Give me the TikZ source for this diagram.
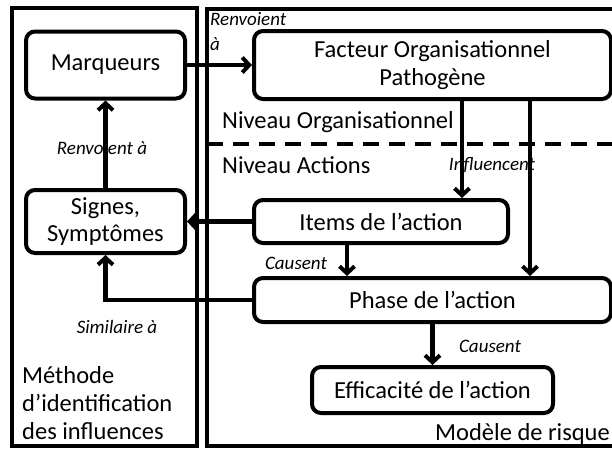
\documentclass[tikz,border=0pt]{standalone}
\usepackage{fontspec}
\setmainfont{Carlito}
\usetikzlibrary{arrows.meta}

\begin{document}
\begin{tikzpicture}[x=1pt,y=-1pt]
\tikzstyle{box}=[draw, rounded corners=9pt, line width=4pt, inner sep=2pt, align=center, font=\fontsize{24.5}{27.5}\selectfont]
\tikzstyle{frame}=[draw, line width=4.5pt]
\tikzstyle{arr}=[line width=4.5pt, -{Straight Barb[length=7pt,width=15pt,line width=4pt]}]
\tikzstyle{lab}=[font=\fontsize{19}{25}\selectfont\itshape, inner sep=0pt]
\tikzstyle{title}=[font=\fontsize{24.5}{28}\selectfont, inner sep=0pt, align=left]

\useasboundingbox (0,0) rectangle (612,448);
\clip (0,0) rectangle (612,448);

% the two frames
\draw[frame] (12,8) rectangle (197,446);
\draw[frame] (207,9) rectangle (640,446);
\draw[line width=4pt, dash pattern=on 16pt off 10pt] (207,144) -- (612,144);

\node[box, minimum width=159pt, minimum height=67pt] (marq) at (105.5,65) {Marqueurs};
\node[box, minimum width=159pt, minimum height=63pt] (signes) at (105.5,221.5) {Signes,\\Symptômes};
\node[box, minimum width=357pt, minimum height=68pt] (fop) at (432.5,65) {Facteur Organisationnel\\Pathogène};
\node[box, minimum width=254pt, minimum height=43pt] (items) at (381,221.5) {Items de l’action};
\node[box, minimum width=357pt, minimum height=44pt] (phase) at (432.5,300) {Phase de l’action};
\node[box, minimum width=241pt, minimum height=46pt] (effic) at (432.5,390) {Efficacité de l’action};

\node[title, anchor=west] (orga) at (222,122) {Niveau Organisationnel};
\node[title, anchor=west] (actions) at (222,165) {Niveau Actions};
\node[title, anchor=east] (modele) at (610,434) {Modèle de risque};
\node[title, anchor=north west] (methode) at (22,366) {Méthode\\d’identification\\des influences};

\path[arr]
(marq) edge (fop)
(signes) edge (marq)
(items) edge (signes)
(fop.south -| 462,0) edge (items.north -| 462,0)
(fop.south -| 530,0) edge (phase.north -| 530,0)
(items.south -| 347,0) edge (phase.north -| 347,0)
(phase) edge (effic);
\draw[arr] (phase.west) -| (signes.south);

\node[lab, align=left, anchor=north west] (renv1) at (210,12) {Renvoient\\à};
\node[lab] (renv2) at (102,148) {Renvoient à};
\node[lab] (infl) at (492,165) {Influencent};
\node[lab] (caus1) at (296,263) {Causent};
\node[lab] (simil) at (117,327) {Similaire à};
\node[lab] (caus2) at (490,346) {Causent};

\end{tikzpicture}
\end{document}
